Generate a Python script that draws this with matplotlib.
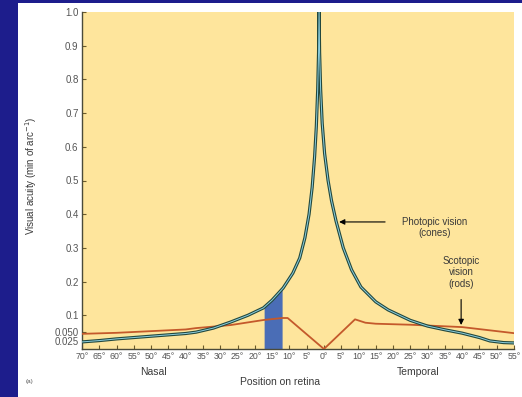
import matplotlib
matplotlib.use('Agg')
import matplotlib.pyplot as plt
import numpy as np
from matplotlib.patches import Rectangle

plt.rcParams['font.family'] = ['Liberation Sans', 'DejaVu Sans']

# photopic (cones) acuity, degrees from fovea (negative = nasal)
photo_deg = [-70, -65, -60, -55, -50, -45, -40, -37, -32, -27, -22, -17.5, -15,
             -11.8, -9, -7, -5.5, -4.3, -3.4, -2.7, -2.2, -1.8, -1.55, -1.4,
             -1.25, -0.95, -0.5, 0.2, 1.2, 2.2, 3.5, 5.6, 8, 10.7, 15, 18.6,
             25, 30, 35, 40, 45, 48, 52, 55]
photo_val = [0.021, 0.025, 0.030, 0.034, 0.038, 0.042, 0.046, 0.050, 0.062, 0.080,
             0.100, 0.122, 0.145, 0.181, 0.225, 0.27, 0.33, 0.40, 0.48, 0.57,
             0.66, 0.77, 0.88, 1.00, 0.88, 0.77, 0.67, 0.58, 0.50, 0.44, 0.38,
             0.30, 0.235, 0.184, 0.140, 0.116, 0.085, 0.068, 0.057, 0.047, 0.034,
             0.024, 0.019, 0.018]

# scotopic (rods) acuity
scoto_deg = [-70, -60, -50, -40, -37, -27, -17.5, -12, -10.5, 0, 9, 12, 15, 25, 40, 50, 55]
scoto_val = [0.045, 0.048, 0.053, 0.058, 0.062, 0.071, 0.086, 0.092, 0.092, 0.0,
             0.088, 0.078, 0.075, 0.072, 0.065, 0.053, 0.047]

blind_spot = (-17.3, -12.1)

xticks = list(range(-70, 56, 5))
xlabels = ['%d°' % abs(t) for t in xticks]
yticks = [0.025, 0.05, 0.1, 0.2, 0.3, 0.4, 0.5, 0.6, 0.7, 0.8, 0.9, 1.0]
ylabels = ['0.025', '0.050', '0.1', '0.2', '0.3', '0.4', '0.5', '0.6', '0.7', '0.8', '0.9', '1.0']

txt = '#3a3a3a'

fig = plt.figure(figsize=(5.22, 3.97), dpi=100, facecolor='#1d1d8c')
fig.patches.append(Rectangle((18/522, 0), 1 - 18/522, 1 - 3/397, transform=fig.transFigure,
                             facecolor='white', edgecolor='none', zorder=-10))
ax = fig.add_axes([82/522, 1 - 349/397, (514 - 82)/522, (349 - 12)/397])
ax.set_facecolor('#fee59c')

bx = np.linspace(blind_spot[0], blind_spot[1], 30)
ax.fill_between(bx, 0, np.interp(bx, photo_deg, photo_val), color='#4a6db6', lw=0, zorder=2)

ax.plot(scoto_deg, scoto_val, color='#c4592b', lw=1.3, zorder=3)
ax.plot(photo_deg, photo_val, color='#22483e', lw=2.3, zorder=4, solid_joinstyle='round')
ax.plot(photo_deg, photo_val, color='#8ccfe0', lw=0.7, zorder=5)

ax.set_xlim(-70, 55)
ax.set_ylim(0, 1.0)
ax.set_xticks(xticks)
ax.set_xticklabels(xlabels, fontsize=6.3)
ax.set_yticks(yticks)
ax.set_yticklabels(ylabels, fontsize=7)
ax.tick_params(direction='in', length=3, width=0.8, color='#6b5a2a',
               labelcolor='#555555', pad=2.5)
for s in ['top', 'right']:
    ax.spines[s].set_visible(False)
for s in ['left', 'bottom']:
    ax.spines[s].set_color('#4a4a3a')
    ax.spines[s].set_linewidth(1.0)

ax.annotate('', xy=(3.6, 0.377), xytext=(18.5, 0.377),
            arrowprops=dict(arrowstyle='-|>', color='black', lw=0.8, mutation_scale=8))
ax.text(32, 0.36, 'Photopic vision\n(cones)', ha='center', va='center', fontsize=7,
        color=txt, linespacing=1.2)
ax.text(39.7, 0.228, 'Scotopic\nvision\n(rods)', ha='center', va='center', fontsize=7,
        color=txt, linespacing=1.2)
ax.annotate('', xy=(39.7, 0.063), xytext=(39.7, 0.155),
            arrowprops=dict(arrowstyle='-|>', color='black', lw=0.8, mutation_scale=8))

fig.text(31/522, 1 - 176/397, 'Visual acuity (min of arc$^{-1}$)', rotation=90,
         ha='center', va='center', fontsize=7, color=txt)
fig.text(280/522, 1 - 382/397, 'Position on retina', ha='center', va='center',
         fontsize=7.5, color=txt)
fig.text(153/522, 1 - 372/397, 'Nasal', ha='center', va='center', fontsize=7.5, color=txt)
fig.text(418/522, 1 - 372/397, 'Temporal', ha='center', va='center', fontsize=7.5, color=txt)
fig.text(30/522, 1 - 382/397, '(a)', ha='center', va='center', fontsize=4.5, color='#555555')

fig.savefig('out.png', dpi=100, facecolor=fig.get_facecolor())
